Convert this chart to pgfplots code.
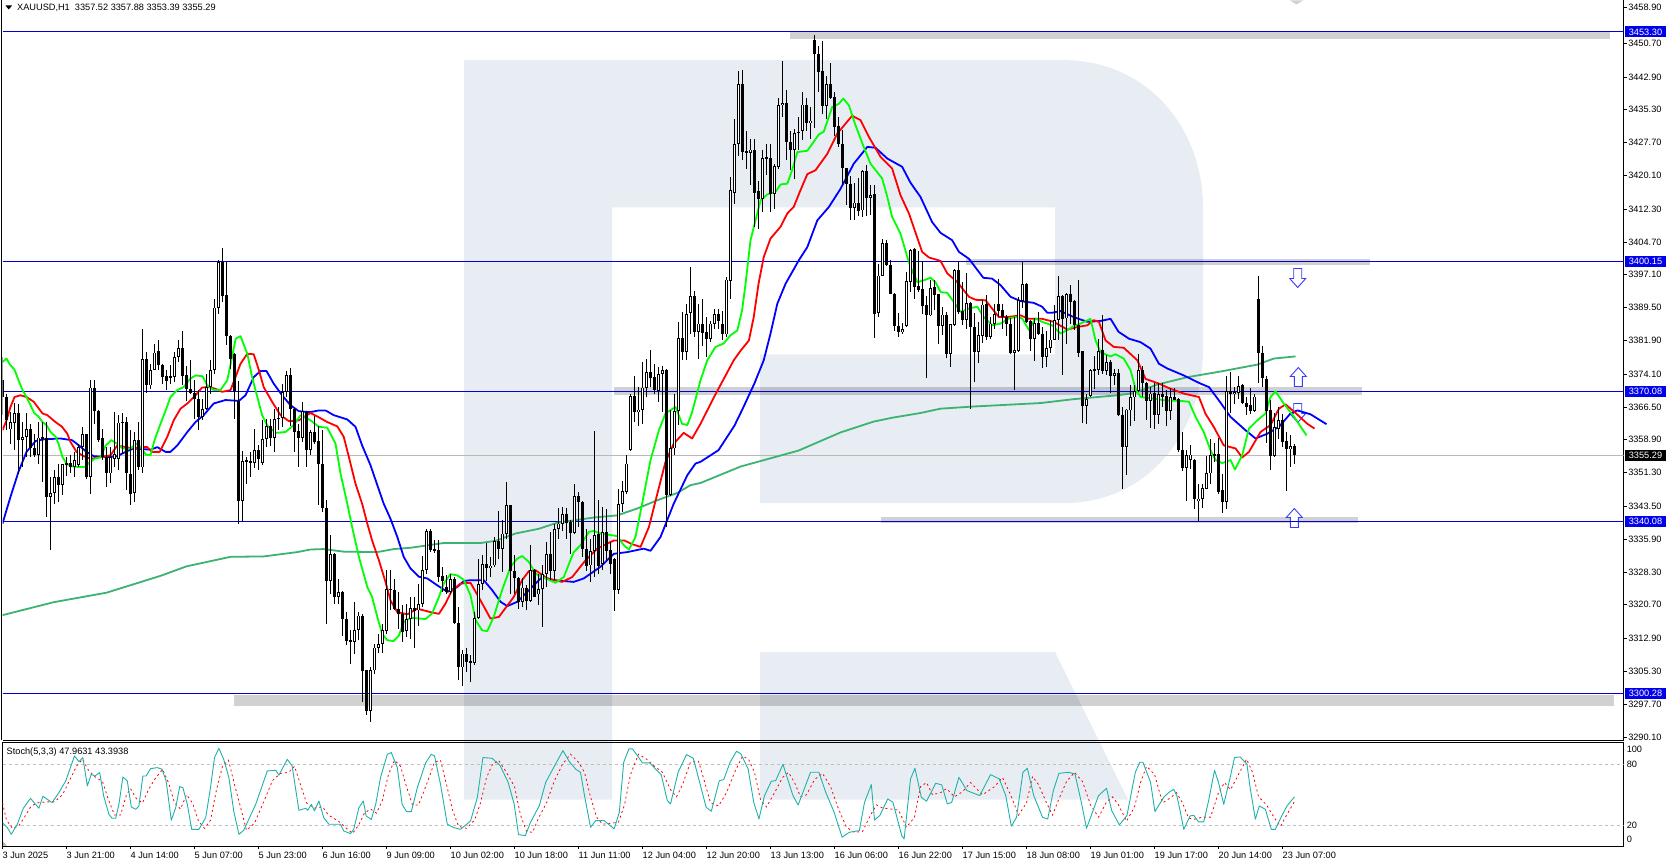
\documentclass[border=0pt]{standalone}
\usepackage{fontspec}
\setmainfont{Liberation Sans}
\usepackage{pgfplots}
\usepackage{pgfplotstable}
\pgfplotsset{compat=1.18}

\definecolor{wm}{RGB}{232,237,244}
\definecolor{lvl}{RGB}{0,0,215}
\definecolor{flag}{RGB}{0,0,235}
\definecolor{arr}{RGB}{60,60,255}
\definecolor{smacol}{RGB}{60,179,113}
\definecolor{kcol}{RGB}{32,178,170}
\newcommand{\chartfont}{\fontsize{9.2}{10}\selectfont}
\tikzset{pflag/.style={anchor=west,text=white,font=\chartfont,inner sep=0pt,minimum height=11pt,minimum width=40.5pt,xshift=1.5pt},
  stochlab/.style={anchor=west,font=\chartfont,inner sep=0pt,xshift=3pt}}

% i open high low close (H1 bars)
\pgfplotstableread{
i o h l c
0 3372.7 3378.1 3364.6 3368.8
1 3368.8 3369.6 3361.1 3363.4
2 3361.3 3365.3 3358.0 3363.0
3 3362.8 3367.3 3356.5 3365.0
4 3365.0 3367.3 3351.1 3358.9
5 3358.9 3363.0 3352.6 3359.6
6 3359.6 3365.0 3354.9 3361.3
7 3361.3 3362.6 3354.9 3356.9
8 3356.9 3360.3 3354.9 3355.3
9 3355.3 3363.0 3353.4 3359.4
10 3359.3 3363.0 3349.1 3359.4
11 3359.4 3363.0 3341.0 3345.7
12 3345.7 3350.3 3333.3 3346.6
13 3346.6 3351.8 3344.1 3350.3
14 3350.3 3353.4 3344.5 3348.4
15 3348.4 3353.4 3346.1 3353.2
16 3353.2 3354.9 3350.5 3353.6
17 3353.6 3355.3 3351.1 3352.6
18 3352.6 3356.1 3350.3 3354.2
19 3353.0 3358.0 3352.6 3357.2
20 3357.2 3361.9 3354.2 3360.2
21 3360.2 3360.2 3349.9 3350.3
22 3350.3 3372.7 3346.4 3371.0
23 3371.0 3372.7 3362.6 3365.6
24 3365.6 3365.7 3358.4 3358.9
25 3359.3 3361.5 3354.2 3354.9
26 3354.9 3357.2 3348.0 3351.1
27 3351.1 3357.2 3348.8 3354.9
28 3354.5 3365.3 3352.6 3355.7
29 3354.5 3364.6 3351.8 3362.9
30 3362.9 3365.0 3355.7 3363.0
31 3362.9 3364.2 3347.2 3351.1
32 3351.1 3361.1 3343.7 3346.4
33 3346.6 3360.7 3344.5 3358.9
34 3358.9 3363.0 3352.0 3352.6
35 3352.5 3384.6 3351.2 3377.5
36 3377.5 3379.2 3369.7 3371.5
37 3371.5 3376.5 3370.7 3375.1
38 3375.1 3381.0 3375.0 3379.1
39 3379.4 3382.1 3375.0 3376.2
40 3376.3 3376.5 3371.9 3373.4
41 3373.6 3375.0 3370.4 3372.5
42 3373.4 3376.1 3371.9 3373.6
43 3373.4 3379.2 3372.3 3378.1
44 3378.1 3381.9 3376.9 3380.2
45 3380.2 3384.1 3371.5 3373.6
46 3373.8 3376.1 3368.0 3370.7
47 3370.7 3377.3 3369.6 3369.7
48 3369.8 3372.7 3363.8 3368.4
49 3368.4 3370.4 3361.1 3364.2
50 3364.2 3368.4 3363.4 3366.1
51 3366.1 3374.2 3365.7 3371.1
52 3371.1 3377.3 3369.6 3375.1
53 3375.1 3391.4 3374.2 3389.5
54 3389.5 3400.5 3388.1 3400.1
55 3400.1 3403.4 3390.8 3392.1
56 3392.4 3400.1 3380.8 3382.9
57 3383.0 3383.1 3375.4 3377.7
58 3378.7 3379.0 3363.8 3370.3
59 3368.0 3372.6 3339.5 3344.7
60 3344.7 3356.3 3339.8 3354.0
61 3354.0 3354.9 3348.7 3354.2
62 3354.0 3356.1 3350.4 3353.5
63 3353.5 3361.5 3352.4 3356.6
64 3356.6 3357.8 3352.0 3354.4
65 3353.5 3363.4 3353.0 3359.1
66 3359.1 3363.8 3357.2 3362.0
67 3362.0 3363.8 3357.4 3359.3
68 3359.4 3366.1 3356.1 3363.8
69 3363.8 3366.6 3361.1 3364.0
70 3364.0 3371.9 3361.8 3369.9
71 3369.9 3374.8 3368.9 3373.8
72 3373.8 3375.6 3362.0 3366.1
73 3366.1 3366.2 3356.1 3360.7
74 3360.9 3362.6 3352.7 3359.4
75 3359.4 3367.6 3358.4 3365.5
76 3365.3 3365.5 3352.6 3356.6
77 3356.6 3361.1 3355.5 3360.7
78 3360.7 3364.5 3358.0 3358.4
79 3358.6 3362.0 3343.7 3353.2
80 3353.4 3361.1 3342.2 3343.2
81 3343.2 3344.9 3316.3 3326.2
82 3326.2 3336.8 3323.3 3332.4
83 3332.4 3332.6 3320.9 3322.6
84 3322.6 3326.7 3320.9 3323.6
85 3323.6 3324.0 3313.6 3317.4
86 3317.5 3319.0 3311.3 3312.3
87 3312.5 3314.8 3307.1 3312.3
88 3312.1 3321.3 3309.4 3314.9
89 3314.9 3319.0 3312.6 3318.2
90 3318.2 3318.6 3298.2 3305.4
91 3305.5 3305.6 3295.3 3296.1
92 3296.1 3306.3 3293.6 3305.5
93 3305.5 3311.7 3304.7 3310.8
94 3310.8 3314.0 3309.5 3311.7
95 3311.7 3316.3 3309.5 3314.8
96 3314.6 3328.7 3314.0 3324.4
97 3324.2 3328.7 3319.4 3324.4
98 3324.2 3326.7 3319.4 3319.8
99 3319.8 3323.6 3315.0 3318.6
100 3318.6 3320.6 3312.1 3314.4
101 3314.6 3320.9 3313.2 3317.5
102 3317.5 3322.5 3312.8 3320.0
103 3320.0 3322.4 3310.8 3319.2
104 3319.4 3325.6 3315.9 3320.9
105 3320.9 3332.1 3320.2 3328.7
106 3328.7 3338.3 3327.9 3337.7
107 3337.7 3338.3 3332.9 3333.4
108 3333.7 3335.6 3332.6 3333.2
109 3333.3 3335.6 3326.0 3327.1
110 3327.3 3329.4 3323.7 3326.2
111 3324.8 3327.5 3323.3 3323.7
112 3323.7 3327.9 3323.3 3326.7
113 3326.7 3327.1 3316.3 3316.5
114 3316.6 3320.2 3303.2 3306.3
115 3306.2 3310.2 3302.0 3309.4
116 3309.4 3310.6 3305.2 3307.5
117 3307.6 3309.0 3302.8 3307.3
118 3307.2 3319.0 3306.7 3317.7
119 3317.7 3331.4 3317.5 3325.6
120 3325.6 3332.2 3324.1 3330.2
121 3330.2 3335.0 3326.2 3329.3
122 3329.3 3331.8 3327.1 3329.8
123 3329.8 3336.4 3329.5 3335.4
124 3335.4 3342.4 3331.4 3333.6
125 3333.6 3340.3 3328.3 3337.2
126 3337.2 3349.1 3336.0 3343.7
127 3343.7 3343.8 3323.3 3328.5
128 3328.5 3332.2 3323.3 3326.8
129 3326.8 3327.1 3319.8 3321.4
130 3321.4 3326.8 3320.2 3324.7
131 3324.7 3325.2 3319.4 3321.6
132 3321.6 3334.5 3321.4 3328.7
133 3328.8 3329.1 3322.4 3322.5
134 3323.1 3327.9 3320.6 3324.4
135 3324.4 3329.8 3315.6 3327.9
136 3327.9 3335.2 3324.8 3332.5
137 3332.5 3337.6 3326.4 3328.5
138 3328.5 3339.5 3326.4 3338.3
139 3338.3 3343.0 3336.0 3339.5
140 3339.5 3343.3 3337.9 3341.8
141 3341.8 3343.2 3336.0 3339.6
142 3339.9 3340.3 3332.5 3337.3
143 3337.3 3348.6 3337.2 3345.8
144 3345.8 3346.8 3338.7 3344.5
145 3344.6 3344.7 3331.8 3333.7
146 3333.7 3338.3 3328.5 3329.8
147 3329.8 3336.0 3326.0 3333.2
148 3333.2 3360.9 3327.1 3336.8
149 3337.0 3344.9 3327.9 3329.8
150 3330.1 3343.3 3328.7 3337.6
151 3337.6 3343.0 3331.0 3333.2
152 3333.3 3335.2 3327.9 3330.2
153 3331.4 3331.5 3319.3 3324.1
154 3324.1 3347.4 3323.3 3344.0
155 3344.0 3349.4 3342.2 3347.0
156 3346.8 3355.3 3346.4 3353.4
157 3356.6 3369.6 3356.3 3369.0
158 3369.0 3373.6 3363.0 3365.3
159 3365.3 3371.1 3362.1 3365.9
160 3365.9 3376.9 3362.6 3371.0
161 3371.0 3377.7 3368.8 3374.6
162 3374.6 3379.6 3371.1 3373.3
163 3373.4 3376.5 3369.6 3370.5
164 3370.2 3375.8 3367.7 3374.2
165 3374.2 3375.9 3365.3 3375.0
166 3375.0 3375.4 3338.7 3346.1
167 3346.1 3365.7 3345.9 3356.9
168 3356.9 3369.6 3355.3 3365.6
169 3365.6 3386.2 3362.3 3382.5
170 3382.5 3388.5 3377.3 3379.2
171 3379.2 3390.4 3377.3 3388.1
172 3388.3 3399.0 3383.5 3392.1
173 3392.1 3393.3 3382.7 3383.8
174 3383.8 3390.4 3377.7 3385.8
175 3385.8 3391.4 3380.7 3383.6
176 3383.8 3387.3 3378.0 3382.3
177 3382.3 3386.5 3381.5 3385.8
178 3385.8 3389.2 3384.6 3388.1
179 3388.1 3389.2 3384.6 3386.5
180 3385.6 3388.8 3381.9 3383.3
181 3383.3 3396.6 3382.7 3396.0
182 3395.6 3419.7 3391.5 3416.8
183 3416.0 3433.2 3413.5 3427.4
184 3427.4 3444.2 3424.7 3441.3
185 3441.3 3444.4 3423.6 3425.5
186 3425.7 3430.3 3421.6 3425.3
187 3425.3 3428.6 3417.8 3426.1
188 3426.1 3428.6 3408.1 3416.0
189 3416.4 3418.9 3407.8 3414.7
190 3414.7 3426.0 3411.6 3424.2
191 3424.1 3427.3 3420.1 3424.4
192 3424.2 3427.4 3411.6 3415.7
193 3415.9 3422.8 3412.4 3422.2
194 3422.0 3438.1 3421.5 3436.4
195 3436.4 3446.7 3433.7 3436.9
196 3436.9 3439.8 3423.7 3427.8
197 3427.8 3430.3 3421.3 3426.1
198 3426.1 3430.9 3419.3 3430.0
199 3429.9 3433.6 3425.9 3430.2
200 3430.4 3439.5 3428.4 3436.5
201 3436.5 3438.1 3430.3 3432.2
202 3432.2 3435.9 3428.6 3432.8
203 3451.5 3452.7 3431.1 3448.3
204 3448.3 3450.0 3439.4 3444.0
205 3444.2 3451.1 3434.4 3436.1
206 3436.2 3443.2 3433.2 3441.3
207 3441.3 3446.2 3437.7 3438.1
208 3438.3 3439.4 3429.3 3431.3
209 3431.5 3433.6 3426.8 3427.3
210 3427.4 3430.5 3417.8 3421.7
211 3421.7 3421.8 3413.2 3418.0
212 3418.2 3419.9 3409.7 3412.6
213 3412.6 3418.4 3409.7 3413.8
214 3413.8 3419.6 3410.8 3411.8
215 3412.0 3421.3 3410.5 3421.1
216 3421.1 3422.6 3410.6 3414.9
217 3414.9 3417.8 3410.9 3415.6
218 3415.7 3418.0 3382.5 3388.1
219 3388.3 3399.5 3387.3 3396.9
220 3396.9 3405.4 3396.7 3404.5
221 3404.5 3405.2 3399.1 3399.4
222 3399.4 3400.5 3392.6 3392.7
223 3392.7 3392.8 3384.1 3385.2
224 3385.3 3388.3 3382.7 3383.8
225 3383.8 3386.0 3383.5 3384.6
226 3385.3 3397.7 3385.1 3395.6
227 3395.4 3403.1 3393.1 3402.9
228 3403.1 3403.2 3391.5 3394.2
229 3394.4 3402.5 3393.1 3393.5
230 3393.7 3400.3 3388.1 3389.8
231 3390.0 3392.1 3373.2 3387.7
232 3387.7 3395.9 3387.5 3394.1
233 3394.3 3395.8 3388.9 3392.3
234 3392.6 3392.7 3381.0 3385.2
235 3385.2 3389.6 3383.1 3387.9
236 3387.7 3388.5 3377.8 3378.7
237 3378.8 3385.8 3375.7 3385.6
238 3385.4 3398.5 3385.2 3398.1
239 3398.1 3400.0 3388.1 3388.5
240 3388.6 3395.4 3385.4 3386.7
241 3386.7 3397.6 3384.6 3390.6
242 3390.6 3390.8 3366.1 3385.1
243 3385.1 3388.3 3372.4 3379.2
244 3379.2 3386.1 3376.7 3383.1
245 3383.0 3391.2 3381.3 3390.2
246 3390.4 3392.5 3382.1 3382.8
247 3382.7 3387.3 3382.3 3385.8
248 3385.8 3390.4 3384.6 3388.1
249 3390.4 3396.2 3387.3 3388.7
250 3389.0 3390.4 3384.6 3387.3
251 3387.3 3387.9 3382.9 3385.8
252 3385.8 3387.0 3378.8 3379.0
253 3379.1 3387.3 3370.5 3379.6
254 3379.5 3392.0 3379.2 3391.2
255 3391.0 3400.0 3389.3 3395.0
256 3395.0 3395.2 3385.9 3386.1
257 3386.4 3386.7 3379.5 3382.2
258 3382.2 3387.0 3377.1 3385.9
259 3385.9 3388.5 3383.1 3383.3
260 3383.5 3385.0 3375.5 3378.0
261 3378.0 3384.2 3375.7 3380.2
262 3380.2 3386.6 3379.0 3382.1
263 3382.1 3390.0 3381.9 3386.6
264 3386.6 3396.7 3381.9 3392.2
265 3392.2 3392.5 3373.8 3386.8
266 3387.0 3392.9 3381.0 3392.7
267 3392.7 3394.7 3385.8 3390.8
268 3391.0 3391.2 3384.3 3385.4
269 3385.4 3395.8 3378.1 3379.0
270 3379.4 3379.5 3362.8 3366.7
271 3366.7 3369.4 3362.5 3368.4
272 3369.0 3375.4 3368.8 3375.1
273 3375.0 3378.2 3370.7 3375.2
274 3375.1 3382.3 3373.8 3379.5
275 3379.6 3387.9 3374.2 3374.8
276 3374.8 3378.5 3373.8 3376.8
277 3376.8 3377.3 3369.7 3373.6
278 3373.7 3375.4 3371.5 3374.4
279 3374.4 3375.4 3364.3 3364.6
280 3364.6 3366.5 3347.6 3357.2
281 3357.2 3366.0 3350.7 3365.9
282 3365.7 3371.5 3362.2 3368.8
283 3368.7 3371.5 3363.3 3370.2
284 3370.2 3378.8 3370.0 3375.0
285 3375.0 3376.1 3368.8 3372.1
286 3372.1 3372.3 3363.4 3367.9
287 3367.9 3371.1 3361.6 3369.6
288 3369.7 3372.1 3361.5 3364.6
289 3364.6 3372.1 3362.6 3369.4
290 3369.4 3372.1 3366.5 3368.7
291 3369.0 3370.4 3362.1 3365.5
292 3365.6 3370.8 3363.4 3368.7
293 3368.7 3370.8 3368.0 3368.2
294 3368.4 3368.5 3356.1 3356.5
295 3356.5 3360.7 3351.7 3352.3
296 3352.3 3356.5 3344.7 3355.4
297 3354.3 3357.6 3352.2 3355.5
298 3354.3 3354.5 3343.0 3345.3
299 3344.7 3348.7 3340.2 3345.3
300 3345.3 3348.6 3343.2 3347.8
301 3347.6 3355.1 3347.4 3351.1
302 3351.1 3359.2 3348.7 3355.3
303 3355.5 3358.2 3353.8 3355.2
304 3355.5 3359.2 3346.4 3346.9
305 3347.2 3351.1 3342.0 3344.5
306 3344.5 3373.7 3343.0 3370.2
307 3370.2 3374.6 3365.1 3369.4
308 3369.4 3371.1 3367.3 3370.0
309 3369.8 3373.6 3368.4 3371.4
310 3371.5 3371.8 3367.3 3367.4
311 3367.5 3368.7 3364.6 3366.5
312 3366.9 3370.8 3364.8 3365.6
313 3365.6 3369.4 3365.3 3368.9
314 3391.4 3396.8 3372.1 3379.0
315 3379.1 3380.6 3371.2 3373.3
316 3372.9 3373.6 3358.2 3365.6
317 3365.7 3368.1 3351.9 3355.1
318 3355.1 3365.0 3354.8 3361.8
319 3361.5 3366.5 3359.2 3363.4
320 3363.4 3364.9 3357.3 3358.4
321 3358.6 3360.7 3347.1 3356.7
322 3356.7 3359.9 3352.6 3357.5
323 3357.52 3357.88 3353.39 3355.29
}\candles

\begin{document}
\begin{tikzpicture}
% page frame, logo and the hand drawn zones, in image pixels
\begin{scope}[x=1pt,y=-1pt,shift={(0pt,860pt)}]
\path[fill=white,use as bounding box] (0,0) rectangle (1668,860);
\fill[wm] (464,59.6) -- (1063,59.6) .. controls (1150,60) and (1203,130) .. (1203,207)
  -- (1203,349) .. controls (1203,430) and (1150,502.7) .. (1063,502.7)
  -- (760,502.7) -- (760,354) -- (1055,354) -- (1055,207) -- (612,207) -- (612,799) -- (464,799) -- cycle;
\fill[wm] (760,651.5) -- (1055,651.5) -- (1128,799) -- (760,799) -- cycle;
\fill[black,opacity=.18] (790,32) rectangle (1610,39);
\fill[black,opacity=.18] (966,259) rectangle (1370,265);
\fill[black,opacity=.18] (614,387) rectangle (1362,395);
\fill[black,opacity=.18] (881,517) rectangle (1358,523);
\fill[black,opacity=.18] (234,694) rectangle (1614,705);
\fill[black,opacity=.18] (1290,0) -- (1303,0) -- (1296.5,4) -- cycle;
\foreach \cx/\ty in {1297.7/268,1297.7/403}
  \draw[arr,fill=white,line width=.9pt,line join=miter]
    (\cx-4,\ty) -- (\cx+4,\ty) -- (\cx+4,\ty+10) -- (\cx+8,\ty+10) -- (\cx,\ty+19)
    -- (\cx-8,\ty+10) -- (\cx-4,\ty+10) -- cycle;
\foreach \cx/\ty in {1298.3/367,1294.3/508}
  \draw[arr,fill=white,line width=.9pt,line join=miter]
    (\cx-4,\ty+19) -- (\cx+4,\ty+19) -- (\cx+4,\ty+9) -- (\cx+8,\ty+9) -- (\cx,\ty)
    -- (\cx-8,\ty+9) -- (\cx-4,\ty+9) -- cycle;
\draw[black,line width=1pt] (1.5,0) -- (1.5,739.5);
\fill[black] (5.5,5) -- (12,5) -- (8.7,9) -- cycle;
\node[anchor=west,inner sep=0pt,font=\chartfont] at (17,7) {XAUUSD,H1\ \ 3357.52 3357.88 3353.39 3355.29};
\fill[gray!60] (2,840) -- (2,845) -- (7,845) -- cycle;
\end{scope}

% price panel
\begin{axis}[
  at={(2.5pt,120.5pt)}, anchor=south west,
  scale only axis, width=1621pt, height=739.5pt,
  xmin=0, xmax=405.25, ymin=3289.40, ymax=3460.59,
  axis x line*=bottom, axis y line*=right,
  axis line style={black,line width=1pt,-},
  xtick=\empty,
  ytick={3290.10,3297.70,3305.30,3312.90,3320.70,3328.30,3335.90,3343.50,3351.30,3358.90,3366.50,3374.10,3381.90,3389.50,3397.10,3404.70,3412.30,3420.10,3427.70,3435.30,3442.90,3450.70,3458.90},
  tick align=outside, major tick length=3pt,
  tick style={black,line width=.8pt},
  yticklabel pos=right,
  yticklabel style={font=\chartfont,anchor=west,inner sep=0pt,xshift=1.5pt,
    /pgf/number format/.cd,fixed,fixed zerofill,precision=2,1000 sep={},assume math mode=true},
  clip mode=individual,
]
\addplot[lvl,line width=1pt] coordinates {(0,3453.30) (405.25,3453.30)};
\addplot[lvl,line width=1pt] coordinates {(0,3400.15) (405.25,3400.15)};
\addplot[lvl,line width=1pt] coordinates {(0,3370.08) (405.25,3370.08)};
\addplot[lvl,line width=1pt] coordinates {(0,3340.08) (405.25,3340.08)};
\addplot[lvl,line width=1pt] coordinates {(0,3300.28) (405.25,3300.28)};
\addplot[gray!55,line width=1pt] coordinates {(0,3355.29) (405.25,3355.29)};

% SMA 200
\addplot[smacol,line width=1.8pt] coordinates {
(0,3318.3)(12.8,3321.3)(26,3323.5)(39.5,3327.4)(46,3329.6)(57,3331.8)(65.3,3331.9)(69.5,3332.4)(73.7,3332.9)(77,3333.5)(80.3,3333.6)(85.3,3333.0)(93.7,3332.9)(97.8,3333.6)(102,3333.9)(110.3,3335.0)(119.5,3335.0)(123.25,3335.5)(128.25,3337.2)(134.1,3338.3)(138.7,3339.7)(147.8,3340.9)(153.7,3341.4)(158.7,3343.0)(163.7,3344.9)(168.7,3346.6)(172,3348.4)(174.5,3348.9)(184.5,3352.7)(199,3356.4)(209.5,3360.6)(217.75,3363.1)(222.4,3364.0)(229.5,3365.1)(234.5,3366.1)(242.75,3366.6)(251.2,3367.0)(259.5,3367.4)(267.75,3368.3)(278.75,3369.2)(282.8,3369.7)(288.75,3371.7)(296.25,3373.4)(304.5,3374.7)(313.7,3376.3)(317.8,3377.7)(323.25,3378.2)
};
% alligator jaw
\addplot[blue,line width=1.8pt,line join=round] coordinates {
(0,3339.5)(2,3345.7)(4,3351.5)(6,3356.1)(8.25,3358.6)(10.3,3359.0)(14.5,3359.2)(17.4,3358.8)(19.1,3357.6)(21,3356.1)(22.8,3355.1)(26.2,3354.9)(28.7,3355.1)(30.75,3356.1)(32.8,3356.9)(37,3356.6)(38.7,3357.2)(40.75,3356.1)(42,3356.1)(43.7,3357.6)(46.2,3360.7)(48.25,3363.0)(50.3,3364.6)(52.8,3367.3)(55.75,3368.1)(59.1,3367.9)(60.75,3369.2)(62.8,3373.4)(64.5,3374.8)(66,3374.8)(67.8,3371.9)(69.9,3369.2)(72,3366.9)(74.1,3365.5)(77,3365.3)(79.1,3365.7)(80.75,3365.7)(82.8,3364.6)(86.2,3363.6)(88.25,3361.9)(89.9,3357.6)(92,3353.0)(93.7,3348.4)(95.3,3344.1)(97,3340.6)(98.7,3336.4)(100.3,3331.8)(102,3329.1)(104.1,3327.2)(106.2,3326.8)(108.7,3325.2)(111.2,3323.7)(113.7,3324.8)(115.3,3326.2)(117,3326.4)(120.3,3326.4)(122.4,3324.1)(124.5,3321.4)(126.2,3320.4)(128.7,3321.4)(131.6,3324.1)(134.9,3327.1)(137.8,3326.4)(142.8,3326.0)(145.3,3326.8)(149.5,3329.5)(152.8,3332.5)(156.2,3332.9)(160.3,3333.7)(162,3333.2)(164.5,3336.4)(167.8,3344.1)(171.2,3350.7)(173.25,3353.4)(174.5,3353.8)(179,3356.5)(183,3362.2)(185,3366)(188,3372)(190.3,3377.3)(192,3383.5)(193.7,3390.4)(195.75,3395.0)(199.1,3400.5)(201.2,3403.5)(203.7,3409.7)(206.6,3412.8)(209.5,3417.0)(212.8,3422.8)(216.2,3426.7)(218.25,3426.5)(221.2,3424.0)(224.9,3422.1)(227,3418.4)(229.5,3415.1)(232.4,3409.3)(234.5,3406.8)(237.4,3405.1)(239.1,3402.4)(241.6,3400.8)(245.2,3396.4)(247.4,3396.2)(249.5,3394.7)(252,3392.0)(254.5,3391.0)(257.8,3390.6)(259.9,3389.7)(261.2,3388.3)(262.4,3388.3)(264.5,3388.7)(267.8,3387.3)(271.2,3386.2)(274.5,3386.4)(277,3386.9)(279,3383.9)(281.6,3382.3)(284.5,3381.5)(287,3380.0)(289.1,3376.5)(291.2,3375.4)(295.3,3373.8)(299.5,3371.9)(301.6,3371.1)(304.1,3368.0)(307,3364.2)(310.75,3361.1)(313.25,3359.2)(316.2,3360.3)(319.1,3361.9)(322,3365.0)(323.7,3365.7)(327,3364.8)(331,3362.5)
};
% alligator teeth
\addplot[red,line width=1.8pt,line join=round] coordinates {
(0,3361.1)(1,3363.4)(2,3366.5)(3,3368.8)(4.5,3369.2)(6,3368.8)(7.8,3367.7)(10,3365.0)(11.2,3364.6)(13.25,3363.0)(14.9,3361.9)(16.2,3360.3)(17,3358.4)(18.5,3356.1)(20.3,3355.1)(22,3354.5)(24.5,3354.9)(27,3355.3)(28.7,3357.6)(30.75,3357.2)(32.8,3356.9)(34.5,3357.2)(36.2,3357.2)(37.4,3356.1)(39.3,3356.1)(41.2,3359.6)(42.8,3363.4)(44.5,3366.1)(46.2,3367.3)(48.25,3369.2)(49.9,3371.0)(51.6,3371.1)(53.25,3370.7)(54.9,3370.0)(57,3370.4)(58.25,3373.4)(59.5,3376.5)(61.2,3378.8)(62.8,3378.7)(64.1,3375.0)(65.3,3371.1)(67.4,3367.7)(69.5,3364.6)(71.6,3363.2)(74.1,3363.4)(77,3365.1)(78.7,3364.3)(81.2,3363.0)(83.7,3362.0)(85.3,3359.6)(86.6,3354.9)(88.25,3348.7)(89.9,3344.1)(91.2,3339.5)(92.4,3335.6)(94.1,3331.0)(95.75,3326.0)(97,3321.7)(98.7,3319.0)(101.2,3318.5)(103.7,3319.8)(107,3319.0)(109.1,3318.6)(110.75,3321.0)(112.4,3324.1)(114.5,3325.6)(117,3325.8)(119.5,3321.7)(122,3317.5)(124.1,3317.9)(127.8,3322.5)(129.9,3326.4)(131.6,3328.5)(133.25,3328.7)(136.2,3326.8)(139.9,3326.0)(142.4,3327.1)(145.75,3331.0)(148.7,3333.7)(151.2,3334.9)(152.9,3335.6)(155.4,3335.6)(157.5,3334.7)(159.5,3334.1)(161.6,3338.7)(163.7,3346.4)(165.75,3353.8)(167.8,3358.0)(170.3,3360.5)(172.4,3359.2)(174.5,3362.6)(178,3369)(182.8,3377.3)(184.5,3379.5)(186.6,3381.9)(187.8,3387.3)(189,3395.0)(190.3,3401.2)(192,3405.5)(194.5,3408.2)(196.2,3411.3)(197.8,3412.8)(199.5,3416.7)(201.2,3420.4)(203.25,3421.3)(206.2,3425.1)(208.7,3429.8)(212.4,3433.9)(214.5,3432.9)(216.6,3429.0)(219.5,3424.4)(222.4,3421.7)(224.5,3415.5)(226.6,3411.3)(229.9,3402.4)(231.6,3401.1)(234.5,3400.3)(236.2,3397.4)(238.7,3395.4)(241.6,3392.0)(243.25,3391.3)(245.75,3391.2)(249.1,3387.3)(251.2,3387.3)(254.5,3387.7)(256.6,3386.9)(259.9,3386.9)(262.8,3386.2)(266.2,3384.4)(268.7,3385.0)(271.2,3385.4)(272.8,3386.6)(274.1,3386.2)(275.75,3381.9)(277.8,3380.4)(280.3,3380.2)(283.7,3377.3)(285.75,3373.0)(289.1,3371.9)(292,3370.7)(295.3,3369.6)(299.1,3368.8)(300.75,3364.9)(302.8,3361.9)(305.3,3357.6)(308.25,3356.9)(309.9,3354.8)(311.6,3356.1)(314.5,3360.7)(317,3362.3)(319.1,3366.1)(320.75,3367.1)(323.25,3365.1)(326.2,3362.6)(328,3361.5)
};
% alligator lips
\addplot[green,line width=1.8pt,line join=round] coordinates {
(0,3376.9)(1,3377.7)(1.8,3376.4)(3,3375.1)(4,3372.7)(5,3370.4)(6,3368.8)(7,3366.9)(8,3365.0)(9,3364.3)(10,3363.0)(11,3362.3)(12,3360.7)(13.3,3359.6)(14,3358.0)(15,3354.9)(16,3353.4)(17,3352.8)(19,3352.6)(20.5,3352.6)(22,3353.8)(23,3354.5)(24.5,3354.8)(25.8,3357.6)(27.2,3358.8)(28.7,3358.0)(30,3356.9)(32,3356.9)(33.5,3358.0)(34.5,3357.2)(35.8,3355.5)(37,3355.3)(38,3358.8)(39.5,3362.6)(40.8,3365.7)(42,3368.8)(43.7,3370.4)(45.3,3371.1)(47,3373.1)(48.3,3373.8)(50,3373.6)(51.2,3371.5)(52.8,3370.4)(54.5,3370.4)(56.2,3372.7)(57.4,3378.1)(58.3,3382.3)(59.5,3382.9)(61.2,3378.8)(62.4,3373.4)(63.7,3368.8)(64.9,3364.6)(66.2,3362.2)(68.3,3360.5)(70.75,3360.7)(72.8,3362.3)(74.5,3364.6)(77,3363.4)(79.1,3361.9)(81.2,3361.7)(83.25,3358.0)(84.5,3351.1)(86.2,3344.1)(87.4,3338.7)(89.1,3331.8)(91.2,3324.8)(92.4,3322.5)(93.7,3317.9)(94.9,3314.0)(96.2,3312.5)(97.8,3312.3)(99.1,3313.6)(100.3,3316.7)(102,3317.7)(105.75,3317.4)(107.4,3318.7)(109.1,3322.5)(110.3,3325.6)(112,3327.8)(113.7,3327.5)(115.3,3326.5)(117,3322.9)(118.3,3317.1)(119.9,3314.8)(121.2,3314.6)(122.8,3317.9)(124.9,3324.1)(127,3329.5)(128.7,3331.4)(129.9,3332.0)(131.6,3330.6)(133.25,3327.9)(135.3,3327.0)(138.25,3325.8)(140.3,3327.1)(142.8,3332.9)(144.5,3334.5)(146.6,3337.6)(147.8,3337.8)(149.5,3337.2)(153.7,3336.6)(155.3,3334.5)(156.6,3333.5)(158.25,3336.4)(159.9,3344.1)(162,3354.2)(164.1,3361.1)(165.75,3365.0)(168.25,3366.5)(169.9,3362.6)(171.2,3362.3)(172.4,3365.3)(174.5,3372.7)(176.2,3377.3)(178.25,3380.4)(180.3,3381.2)(182,3383.1)(183.7,3384.2)(184.9,3388.9)(185.75,3395.0)(187,3405.1)(188.25,3409.7)(189.5,3414.3)(191.2,3415.7)(193.25,3416.3)(194.5,3418.0)(196.2,3418.2)(197.4,3421.3)(198.7,3425.5)(201.2,3425.8)(204.1,3429.6)(205.3,3430.2)(207.4,3435.9)(209.1,3436.7)(210.2,3437.9)(211.6,3436.3)(213.25,3431.7)(215.3,3426.7)(217,3422.8)(219.9,3419.4)(221.2,3415.1)(222.4,3410.5)(224.5,3406.6)(226.2,3401.2)(227,3398.9)(228.7,3395.4)(230.3,3395.8)(232,3396.4)(233.25,3395.4)(234.5,3393.1)(236.2,3392.9)(237.8,3390.8)(239.5,3388.5)(241.6,3389.3)(243.7,3389.7)(245.3,3387.3)(247.4,3385.4)(249.5,3385.8)(251.6,3387.0)(253.25,3387.3)(254.9,3387.0)(256.6,3384.3)(258.25,3387.0)(259.9,3386.2)(262.4,3385.4)(264.5,3383.5)(266.2,3384.3)(267.8,3385.2)(269.5,3385.8)(272,3386.9)(273.25,3381.9)(274.5,3379.2)(277,3378.2)(278.25,3378.7)(280.3,3377.7)(282,3375.0)(283.25,3370.7)(284.5,3368.8)(287.8,3368.4)(290.75,3368.0)(294.5,3367.9)(296.6,3367.7)(298.25,3364.2)(300.3,3360.7)(302,3356.5)(303.25,3354.2)(304.9,3353.5)(307,3354.2)(308.1,3352.0)(309.9,3355.3)(311.6,3361.5)(313.7,3363.4)(315.75,3365.0)(317,3368.8)(318.25,3370.1)(320.3,3367.3)(322.9,3364.2)(326,3359.9)
};

% candles: wicks, bodies, hollow interiors
\addplot[draw=none,mark=none,error bars/.cd,y dir=both,y explicit,error mark=none,
  error bar style={draw=black,line width=1pt}]
  table[x=i,y expr={(\thisrow{h}+\thisrow{l})/2},y error expr={(\thisrow{h}-\thisrow{l})/2}] {\candles};
\addplot[draw=none,mark=none,error bars/.cd,y dir=both,y explicit,error mark=none,
  error bar style={draw=black,line width=3pt}]
  table[x=i,y expr={(\thisrow{o}+\thisrow{c})/2},y error expr={max(abs(\thisrow{c}-\thisrow{o})/2,0.15)}] {\candles};
\addplot[draw=none,mark=none,error bars/.cd,y dir=both,y explicit,error mark=none,
  error bar style={draw=white,line width=1pt}]
  table[x=i,y expr={(\thisrow{o}+\thisrow{c})/2},y error expr={max((\thisrow{c}-\thisrow{o})/2-0.2,0)}] {\candles};

% price flags
\node[pflag,fill=flag] at (axis cs:405.25,3453.30) {3453.30};
\node[pflag,fill=flag] at (axis cs:405.25,3400.15) {3400.15};
\node[pflag,fill=flag] at (axis cs:405.25,3370.08) {3370.08};
\node[pflag,fill=flag] at (axis cs:405.25,3340.08) {3340.08};
\node[pflag,fill=flag] at (axis cs:405.25,3300.28) {3300.28};
\node[pflag,fill=black] at (axis cs:405.25,3355.29) {3355.29};
\end{axis}

% stochastic panel
\begin{axis}[
  at={(2.5pt,14.5pt)}, anchor=south west,
  scale only axis, width=1621pt, height=104pt,
  xmin=0, xmax=405.25, ymin=-0.4, ymax=101.9,
  axis line style={black,line width=1pt},
  xtick={0,16,...,320},
  xticklabels={3 Jun 2025,3 Jun 21:00,4 Jun 14:00,5 Jun 07:00,5 Jun 23:00,6 Jun 16:00,9 Jun 09:00,10 Jun 02:00,10 Jun 18:00,11 Jun 11:00,12 Jun 04:00,12 Jun 20:00,13 Jun 13:00,16 Jun 06:00,16 Jun 22:00,17 Jun 15:00,18 Jun 08:00,19 Jun 01:00,19 Jun 17:00,20 Jun 14:00,23 Jun 07:00},
  xticklabel style={font=\chartfont,anchor=north west,inner sep=0pt,xshift=0pt,yshift=-2.5pt},
  ytick=\empty,
  xtick pos=bottom,
  tick align=outside, major tick length=3pt,
  tick style={black,line width=.8pt},
  clip mode=individual,
]
\addplot[gray!50,line width=.8pt,dash pattern=on 3pt off 3pt] coordinates {(0,80) (405.25,80)};
\addplot[gray!50,line width=.8pt,dash pattern=on 3pt off 3pt] coordinates {(0,20) (405.25,20)};
% %D
\addplot[red,line width=.8pt,dash pattern=on 2pt off 3pt] coordinates {
(0,42)(1,25)(2.5,17)(4,19)(5.5,28)(7,38)(8.5,42)(11,43)(13,43)(15,50)(17,66)(18.5,78)(20,85)(21.5,74)(23,68)(25,63)(26.5,45)(28,30)(29.5,30)(31,50)(32,56)(33.5,46)(35,42)(36.5,55)(38,65)(40,75)(41.5,62)(43,42)(44.5,36)(46,50)(47.5,42)(49,24)(50.5,17)(52,25)(53.5,55)(55,78)(56.5,84)(58,60)(59.5,38)(61,15)(63,22)(65.5,45)(67.5,64)(69.5,71)(71.5,72)(73,78)(74.5,60)(76,42)(78,37)(80,38)(81.5,30)(84,24)(86,17)(87.5,12)(89,20)(90.5,32)(92,36)(93.5,32)(95,45)(96.5,70)(98,84)(99.5,78)(101,58)(102.5,40)(104,40)(106,60)(108,82)(109.5,84)(111,60)(112.5,35)(114,19)(116,17)(118,25)(119.5,42)(121,67)(122.5,80)(124,84)(126,72)(128,58)(129.5,30)(131,14)(132.5,13)(134,27)(136,42)(138,64)(140,80)(142,90)(144,82)(145.5,72)(147,48)(148.5,28)(150,21)(152,22)(154,23)(155.5,40)(157,70)(159,90)(161,85)(163,78)(165,72)(167,55)(168.5,48)(170,60)(172,82)(174,83)(175.5,63)(177,42)(179,39)(181,52)(183,72)(185,88)(186.5,85)(188,72)(189.5,45)(191,38)(193,52)(195,67)(196.5,72)(198,62)(199.5,48)(201,50)(203,65)(205,71)(207,58)(209,36)(211,18)(213,13)(215,14)(217,30)(218.5,40)(220,37)(222,36)(224,35)(226,18)(228,28)(229.5,58)(231,62)(232.5,50)(234.5,52)(236,56)(238,48)(240,53)(242,62)(245,50)(248,58)(250,67)(252,50)(254,30)(256,42)(257.5,68)(259,60)(261,42)(262.5,30)(264,45)(266,63)(268,72)(270,63)(272,40)(274,28)(276,43)(277.5,48)(279,40)(281,24)(283,38)(284.5,62)(286,78)(288,70)(290,42)(292,47)(293.5,52)(295,42)(296.5,27)(298,26)(300,28)(302,28)(304,52)(305.5,62)(307,55)(309,70)(311,85)(312.5,72)(314,48)(316,40)(318,27)(319.5,19)(321,30)(323,43.39)
};
% %K
\addplot[kcol,line width=.9pt,line join=round] coordinates {
(0,22.6)(1.2,17.7)(2.2,11.1)(3.7,21)(5.2,36.7)(7,46.5)(9.1,36.7)(10.1,48.5)(12.4,42.3)(14.1,52.1)(15.8,63.6)(18,88.2)(19.1,82.6)(20.1,86.6)(21.2,58.7)(22.2,70.2)(23.1,68.5)(24.3,71.8)(25.3,48.8)(26.6,30.8)(27.4,26.9)(28.3,26.9)(29.1,40.6)(30.1,67.5)(31.2,63.6)(32.2,38)(33.3,35.7)(34.1,39)(35.1,68.5)(35.9,68.5)(37,75.7)(38.7,76.7)(39.9,75.1)(40.9,63.6)(42.2,24.9)(43.3,37.4)(44.3,58)(45.1,57)(46.2,40.6)(47.3,16)(49.1,16)(50.8,27.5)(52,57)(53,86.6)(54.1,95.7)(55.3,84.9)(56.6,66.9)(57.8,34.1)(59.1,11.1)(60.3,15)(63.3,40.6)(66.2,73.4)(68.3,74.1)(69.1,69.2)(71.2,84.9)(72.4,78.4)(74.1,34.7)(75.8,36.7)(76.3,34.7)(77.2,40.6)(78,34.1)(79.1,43.9)(80.3,27.5)(81.6,21)(84.5,21)(85.3,14.4)(87,11.8)(87.8,16)(89.1,37.4)(90.2,43.9)(90.9,29.2)(92.2,25.6)(93.3,40.6)(94.5,66.9)(96.2,89.8)(97.2,91.5)(98.7,76.7)(99.9,40.6)(101,33.4)(102.2,33.4)(103.7,57)(105.8,81.6)(107.2,89.8)(108,88.2)(109.5,60.3)(111.2,21)(112.8,17.7)(114.5,16)(117,24.2)(118.7,47.2)(120.1,86.6)(122.4,85.9)(124.4,78.7)(126.4,62.3)(127.9,41)(129,10.8)(130.7,9.8)(132,22.9)(134.2,39.3)(135.8,62.3)(138.5,82)(140.1,93.4)(141.8,82)(143.4,74.8)(144.5,72.1)(145.5,49.2)(147,18)(148.3,24.6)(150.4,24.6)(152.9,16.4)(154.2,32.8)(155.3,82)(156.6,95.1)(157.5,95.1)(160,81.3)(161.8,81.3)(164.7,69.5)(166.2,44.2)(167,41)(168.9,72.1)(171,89.5)(172.7,85.9)(174.5,59)(175.9,37.7)(177.2,33.8)(179.2,63.9)(180.3,64.9)(181.9,82)(183.5,92.8)(184.6,90.2)(186.4,75.4)(187.8,42.6)(189.1,26.2)(190.5,49.2)(192.2,63.3)(193.3,63.9)(195.1,80)(197.6,49.2)(198.9,40)(199.8,49.2)(202,72.1)(204.1,72.1)(205.8,52.4)(207.9,32.8)(209.9,8.2)(211.7,13.1)(214.2,14.7)(215.5,42.6)(217.2,60)(218,25.2)(219.3,29.5)(221.3,45.9)(222.6,42.6)(224.8,9.8)(225.4,6.5)(227,65.6)(228.1,76.1)(229.7,47.5)(231,43.6)(233.3,61.3)(234.8,59.7)(236.2,41)(237.3,42.6)(239.1,67.2)(241.1,54.1)(244.3,49.2)(247,69.8)(249.2,65.6)(250.8,49.2)(252.2,19)(253.5,27.8)(255.1,72.1)(256.2,76.1)(257.8,49.2)(260,27.8)(261.3,26.2)(262.7,54.1)(264.1,71.1)(266.5,72.1)(268.1,70.5)(269.7,42.6)(271,17)(274,49.2)(276,56.4)(277.3,34.4)(279.2,20.3)(281.1,29.5)(283.2,72.1)(284.3,82)(285.1,82)(287,62.3)(288.1,33.4)(290.3,47.5)(291.5,52.1)(292.8,55.4)(293.6,48.8)(294.4,34.1)(295.3,16)(296.9,29.2)(297.8,29.8)(299,23.3)(300.3,23.3)(301.5,43.9)(303,74.1)(304,62)(305.3,40.6)(306.9,66.9)(308,86.6)(309.4,87.2)(311.1,80)(311.9,57)(313.2,25.9)(314.2,39)(315.7,35.7)(317.2,16)(318.2,16)(319.8,29.2)(321.1,39)(323,47.96)
};
\node[stochlab] at (axis cs:405.25,95) {100};
\node[stochlab] at (axis cs:405.25,80) {80};
\node[stochlab] at (axis cs:405.25,20) {20};
\node[stochlab] at (axis cs:405.25,6.5) {0};
\node[anchor=west,font=\chartfont,inner sep=0pt] at (axis cs:1,91.5) {Stoch(5,3,3) 47.9631 43.3938};
\end{axis}
\end{tikzpicture}
\end{document}
